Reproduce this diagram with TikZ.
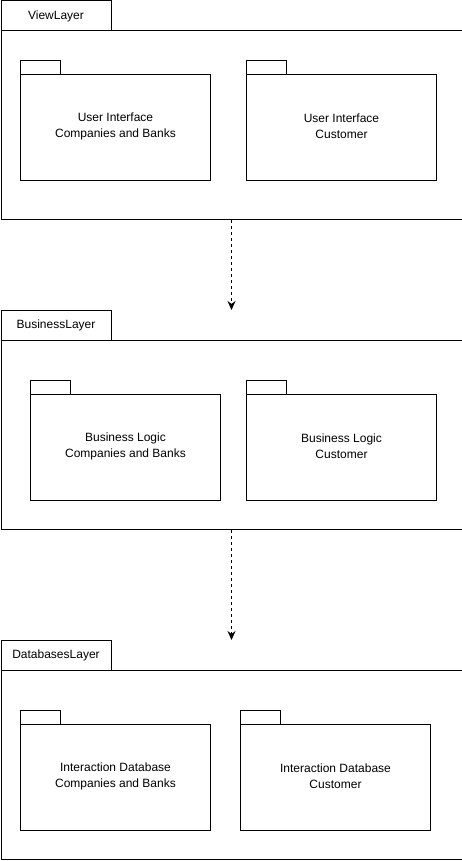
\documentclass[tikz,border=0pt]{standalone}
\usepackage{fontspec}
\setmainfont{Liberation Sans}
\usetikzlibrary{arrows.meta}
\begin{document}
\begin{tikzpicture}[x=1pt,y=-1pt,
  every node/.style={font=\fontsize{12}{16}\selectfont},
  box/.style={draw=black,line width=1pt,rectangle,inner sep=0pt,anchor=north west},
  layerbody/.style={box,minimum width=461pt,minimum height=189pt},
  layertab/.style={box,minimum width=110pt,minimum height=30pt},
  pkgbody/.style={box,minimum width=190pt,minimum height=106pt},
  pkgtext/.style={align=center,inner sep=0pt},
  pkgtab/.style={box,minimum width=40pt,minimum height=14pt},
  dep/.style={draw=black,line width=1pt,dashed,dash pattern=on 3pt off 3pt,-{Stealth[length=9pt,width=8pt]}}]
\useasboundingbox (0,0) rectangle (462,861);

% View layer
\node[layertab] (viewTab) at (0.5,0.5) {ViewLayer};
\node[layerbody] (view) at (0.5,30) {};
\node[pkgtab] (uiCBTab) at (20,60) {};
\node[pkgbody] (uiCB) at (20,74) {};
\node[pkgtext] (uiCBText) at ([yshift=1.5pt]uiCB.center) {User Interface\\Companies and Banks};
\node[pkgtab] (uiCTab) at (246,60) {};
\node[pkgbody] (uiC) at (246,74) {};
\node[pkgtext] (uiCText) at ([yshift=1.5pt]uiC.center) {User Interface\\Customer};

% Business layer
\node[layertab] (busTab) at (0.5,310) {BusinessLayer};
\node[layerbody] (bus) at (0.5,340) {};
\node[pkgtab] (blCBTab) at (30,380) {};
\node[pkgbody] (blCB) at (30,394) {};
\node[pkgtext] (blCBText) at ([yshift=1.5pt]blCB.center) {Business Logic\\Companies and Banks};
\node[pkgtab] (blCTab) at (246,380) {};
\node[pkgbody] (blC) at (246,394) {};
\node[pkgtext] (blCText) at ([yshift=1.5pt]blC.center) {Business Logic\\Customer};

% Databases layer
\node[layertab] (dbTab) at (0.5,640) {DatabasesLayer};
\node[layerbody] (db) at (0.5,670) {};
\node[pkgtab] (idCBTab) at (20,710) {};
\node[pkgbody] (idCB) at (20,724) {};
\node[pkgtext] (idCBText) at ([yshift=1.5pt]idCB.center) {Interaction Database\\Companies and Banks};
\node[pkgtab] (idCTab) at (240,710) {};
\node[pkgbody] (idC) at (240,724) {};
\node[pkgtext] (idCText) at ([yshift=1.5pt]idC.center) {Interaction Database\\Customer};

% Dependencies between layers
\draw[dep] (view.south) -- (view.south |- busTab.north);
\draw[dep] (bus.south) -- (bus.south |- dbTab.north);
\end{tikzpicture}
\end{document}
